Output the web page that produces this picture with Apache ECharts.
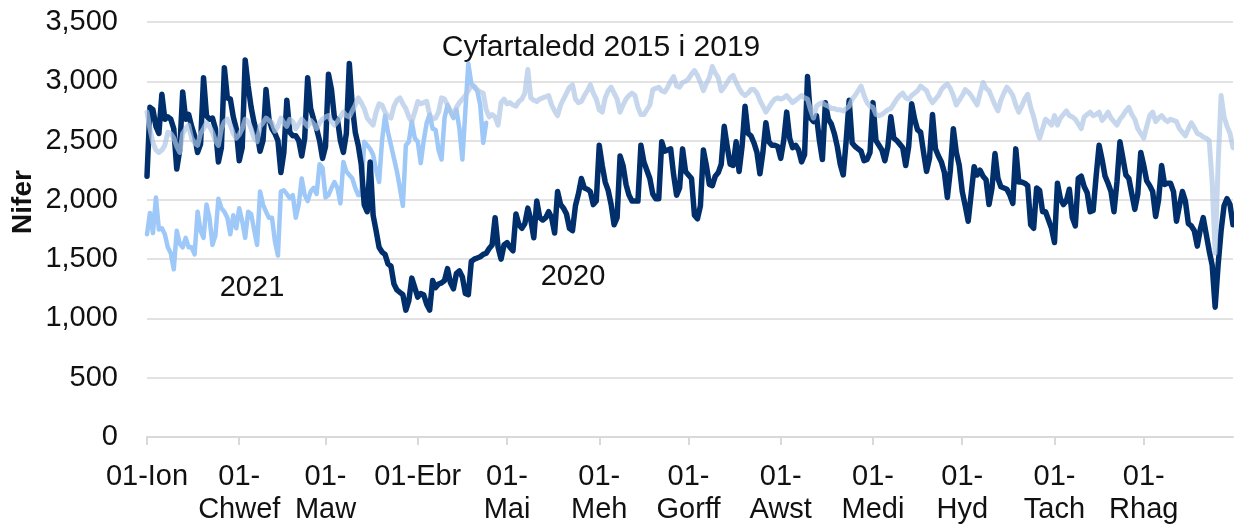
<!DOCTYPE html>
<html>
<head>
<meta charset="utf-8">
<script src="https://cdn.jsdelivr.net/npm/echarts@6/dist/echarts.min.js"></script>
<style>
  html, body { margin: 0; padding: 0; background: #fff; }
  #chart { width: 1234px; height: 526px; }
</style>
</head>
<body>
<div id="chart"></div>
<script>
// 2020 is a leap year, one category per day
const monthNames = ['Ion', 'Chwef', 'Maw', 'Ebr', 'Mai', 'Meh', 'Gorff', 'Awst', 'Medi', 'Hyd', 'Tach', 'Rhag'];
const monthDays = [31, 29, 31, 30, 31, 30, 31, 31, 30, 31, 30, 31];
const tickLabels = ['01-Ion', '01-\nChwef', '01-\nMaw', '01-Ebr', '01-\nMai', '01-\nMeh',
  '01-\nGorff', '01-\nAwst', '01-\nMedi', '01-\nHyd', '01-\nTach', '01-\nRhag'];

// daily values, 2020 (01-Ion .. 31-Rhag)
const y2020 = [
  2200, 2780, 2760, 2620, 2560,
  2890, 2680, 2700, 2680, 2600, 2260, 2420,
  2910, 2680, 2720, 2620, 2540, 2400, 2470,
  3030, 2710, 2680, 2690, 2600, 2320, 2440,
  3115, 2860, 2850, 2700, 2600, 2330, 2440,
  3180, 2960, 2780, 2650, 2560, 2410, 2500,
  2930, 2680, 2600, 2560, 2500, 2230, 2400,
  2840, 2570, 2540, 2540, 2500, 2370, 2520,
  3030, 2770, 2680, 2600, 2500, 2350, 2450,
  3060, 2930, 2690, 2680, 2500, 2400, 2560,
  3150, 2790, 2570, 2460, 2300, 1960, 1900,
  2320, 1870, 1740, 1600, 1560, 1540, 1460,
  1440, 1290, 1240, 1220, 1200, 1070, 1150,
  1340, 1260, 1180, 1210, 1200, 1120, 1070,
  1320, 1260, 1290, 1300, 1320, 1420, 1300,
  1250, 1380, 1400, 1350, 1210, 1200, 1480,
  1500, 1510, 1520, 1540, 1550, 1590, 1620,
  1850, 1600, 1500, 1620, 1640, 1600, 1570,
  1880, 1790, 1760, 1800, 1930, 1830, 1680,
  1990, 1850, 1830, 1850, 1900, 1850, 1720,
  2070, 1960, 1930, 1880, 1760, 1740, 1950,
  2050, 2180, 2100, 2090, 2070, 1960, 1990,
  2460, 2290, 2150, 2080, 1960, 1790, 1850,
  2370, 2290, 2130, 2040, 1990, 1990, 1990,
  2460, 2320, 2250, 2180, 2050, 2010, 2010,
  2490, 2410, 2420, 2430, 2210, 2040, 2100,
  2430, 2240, 2210, 2180, 1870, 1840, 1950,
  2420, 2290, 2130, 2120, 2200, 2230, 2300,
  2620, 2450, 2300, 2290, 2490, 2240, 2450,
  2790, 2560, 2540, 2480, 2400, 2220, 2400,
  2650, 2490, 2460, 2460, 2450, 2350, 2500,
  2740, 2520, 2440, 2460, 2420, 2320, 2380,
  3040, 2690, 2660, 2710, 2500, 2340, 2820,
  2680, 2640, 2560, 2450, 2300, 2210, 2500,
  2840, 2480, 2450, 2430, 2410, 2330, 2340,
  2400, 2820, 2500, 2460, 2420, 2330, 2450,
  2700, 2520, 2500, 2470, 2440, 2290, 2450,
  2810, 2680, 2590, 2570, 2400, 2240, 2350,
  2720, 2430, 2370, 2320, 2230, 2020, 2250,
  2600, 2400, 2290, 2070, 1950, 1820, 2050,
  2280, 2210, 2250, 2200, 2170, 1960, 2100,
  2390, 2180, 2110, 2100, 2090, 2040, 1970,
  2430, 2150, 2150, 2140, 2120, 1790, 1760,
  2100, 2080, 1900, 1900, 1830, 1760, 1640,
  2140, 2010, 1960, 1990, 2090, 1850, 1780,
  2180, 2200, 2110, 2060, 1900, 1910, 2200,
  2460, 2340, 2200, 2140, 2070, 1900, 2150,
  2490, 2350, 2210, 2180, 2050, 1920, 2050,
  2400, 2290, 2160, 2120, 2070, 1860, 2000,
  2290, 2130, 2140, 2140, 2070, 1820, 1950,
  2070, 1990, 1800, 1780, 1740, 1610, 1750,
  1850, 1710, 1570, 1450, 1095, 1450, 1740,
  1950, 2010, 1960, 1790
];

// daily values, 2021 (only up to late April)
const y2021 = [
  1710, 1890, 1720,
  2020, 1750, 1760, 1710, 1600, 1550, 1415,
  1740, 1630, 1600, 1680, 1600, 1600, 1540,
  1900, 1740, 1680, 1960, 1850, 1620, 1700,
  2010, 1930, 1900, 1850, 1710, 1870, 1760,
  1930, 1820, 1680, 1900, 1880, 1750, 1620,
  2070, 1960, 1900, 1850, 1850, 1650, 1530,
  2070, 2080, 2050, 2014, 2040, 1850, 1960,
  2180, 2040, 1990, 2070, 2100, 2050, 2300,
  2270, 2020, 2040, 2100, 2150, 2100, 1970,
  2320, 2240, 2210, 2180, 2100, 2040, 2040,
  2490, 2460, 2430, 2380, 2250, 2150, 2500,
  2710, 2570, 2460, 2350, 2240, 2100, 1950,
  2460, 2490, 2660, 2520, 2490, 2310, 2500,
  2650, 2720, 2600, 2590, 2420, 2340, 2690,
  2800, 2740, 2690, 2760, 2600, 2340, 2750,
  3150, 2980, 2950, 2920, 2800, 2480, 2650
];

// daily values, average 2015 to 2019
const avg1519 = [
  2740, 2600, 2480, 2420, 2400, 2420, 2460,
  2570, 2560, 2520, 2450, 2400, 2560, 2600,
  2630, 2520, 2480, 2460, 2560, 2600, 2650,
  2620, 2570, 2500, 2460, 2600, 2660, 2680,
  2630, 2560, 2520, 2550, 2600, 2680, 2660,
  2600, 2520, 2490, 2620, 2650, 2690, 2670,
  2650, 2580, 2620, 2690, 2650, 2620, 2680,
  2660, 2600, 2640, 2680, 2650, 2620, 2670,
  2640, 2600, 2650, 2680, 2700, 2710, 2660,
  2630, 2660, 2700, 2740, 2710, 2700, 2750,
  2800, 2860, 2820, 2770, 2690, 2660, 2630,
  2740, 2810, 2800, 2740, 2700, 2690, 2790,
  2840, 2860, 2810, 2770, 2700, 2660, 2740,
  2830, 2810, 2820, 2830, 2720, 2680, 2690,
  2740, 2860, 2850, 2800, 2750, 2720, 2780,
  2820, 2850, 2880, 2920, 2960, 2960, 2930,
  2910, 2900, 2760, 2700, 2720, 2700, 2630,
  2820, 2850, 2810, 2820, 2800, 2790, 2830,
  2850, 2900, 3100, 2860, 2840, 2830, 2850,
  2860, 2870, 2880, 2800, 2750, 2710, 2800,
  2850, 2900, 2950, 2970, 2850, 2820, 2830,
  2880, 2920, 2970, 2900, 2850, 2760, 2740,
  2860, 2920, 2950, 2900, 2850, 2740, 2800,
  2850, 2880, 2900, 2880, 2780, 2720, 2720,
  2760, 2800, 2930, 2940, 2950, 2920, 2910,
  2950, 3000, 3040, 2960, 2950, 2990, 3000,
  3020, 3060, 3090, 3050, 2990, 2920, 2980,
  3030, 3125, 3070, 3030, 2920, 2950, 2990,
  3030, 3050, 2990, 2940, 2900, 2880, 2900,
  2930, 2930, 2900, 2840, 2790, 2740, 2780,
  2820, 2850, 2860, 2850, 2860, 2880, 2850,
  2820, 2840, 2860, 2880, 2860, 2850, 2760,
  2690, 2790, 2810, 2820, 2800, 2790, 2770,
  2770, 2760, 2760, 2750, 2770, 2790, 2850,
  2880, 2920, 2960, 2880, 2820, 2790, 2780,
  2720, 2710, 2720, 2740, 2760, 2770, 2810,
  2850, 2880, 2900, 2860, 2850, 2880, 2900,
  2920, 2960, 2940, 2920, 2860, 2820, 2850,
  2880, 2930, 2960, 2975, 2940, 2880, 2800,
  2840, 2880, 2930, 2910, 2880, 2840, 2800,
  2900, 2990, 2940, 2920, 2860, 2800, 2750,
  2840, 2900, 2950, 2920, 2880, 2800, 2740,
  2790, 2850, 2890, 2780, 2700, 2600, 2520,
  2600, 2680, 2660, 2630, 2710, 2630, 2690,
  2720, 2750, 2710, 2700, 2680, 2640, 2600,
  2700, 2720, 2740, 2710, 2720, 2740, 2670,
  2700, 2740, 2690, 2660, 2630, 2680, 2710,
  2750, 2780, 2720, 2680, 2600, 2560, 2520,
  2620, 2710, 2740, 2660, 2690, 2710, 2680,
  2660, 2680, 2670, 2660, 2600, 2570, 2540,
  2600, 2650, 2610, 2560, 2550, 2530, 2520,
  2500, 2150, 1550, 2300, 2880, 2700, 2620,
  2560, 2440
];

const days = [];
const monthStart = [];
monthDays.forEach((n, m) => {
  monthStart.push(days.length);
  for (let d = 1; d <= n; d++) {
    days.push((d < 10 ? '0' : '') + d + '-' + monthNames[m]);
  }
});
const isMonthStart = idx => monthStart.indexOf(idx) >= 0;

const font = '"Liberation Sans", Arial, sans-serif';
const chart = echarts.init(document.getElementById('chart'), null, { renderer: 'canvas' });

function note(text, x, y, size) {
  return {
    type: 'text', x: x, y: y,
    style: { text: text, font: size + 'px ' + font, fill: '#111',
      textAlign: 'center', textVerticalAlign: 'middle', align: 'center', verticalAlign: 'middle' }
  };
}

chart.setOption({
  animation: false,
  grid: { left: 147, right: 1, top: 22, bottom: 85, containLabel: false },
  xAxis: {
    type: 'category',
    data: days,
    boundaryGap: false,
    axisLine: { lineStyle: { color: '#d9d9d9', width: 2 } },
    axisTick: { show: true, interval: isMonthStart, length: 8, lineStyle: { color: '#d9d9d9', width: 2 } },
    axisLabel: {
      interval: isMonthStart,
      formatter: (v, i) => tickLabels[monthStart.indexOf(i)],
      fontSize: 29,
      lineHeight: 33,
      fontFamily: font,
      color: '#111',
      margin: 23
    },
    splitLine: { show: false }
  },
  yAxis: {
    type: 'value',
    min: 0,
    max: 3500,
    interval: 500,
    axisLine: { show: false },
    axisTick: { show: false },
    splitLine: { lineStyle: { color: '#d9d9d9', width: 1.5 } },
    axisLabel: {
      fontSize: 29,
      fontFamily: font,
      color: '#111',
      margin: 29,
      formatter: v => v.toLocaleString('en-US')
    }
  },
  series: [
    {
      name: '2021',
      type: 'line',
      data: y2021,
      symbol: 'none',
      lineStyle: { color: '#9ec8f7', width: 4.5, cap: 'round', join: 'round' }
    },
    {
      name: '2020',
      type: 'line',
      data: y2020,
      symbol: 'none',
      lineStyle: { color: '#002f6c', width: 5.5, cap: 'round', join: 'round' }
    },
    {
      name: 'Cyfartaledd 2015 i 2019',
      type: 'line',
      data: avg1519,
      symbol: 'none',
      lineStyle: { color: '#aec6e6', opacity: 0.7, width: 5, cap: 'round', join: 'round' }
    }
  ],
  graphic: [
    {
      type: 'text', x: 23, y: 202, rotation: Math.PI / 2,
      style: { text: 'Nifer', font: 'bold 28px ' + font, fill: '#111',
        textAlign: 'center', textVerticalAlign: 'middle', align: 'center', verticalAlign: 'middle' }
    },
    note('Cyfartaledd 2015 i 2019', 601, 48, 30),
    note('2021', 252, 288, 29),
    note('2020', 573, 277, 29)
  ]
});
</script>
</body>
</html>
